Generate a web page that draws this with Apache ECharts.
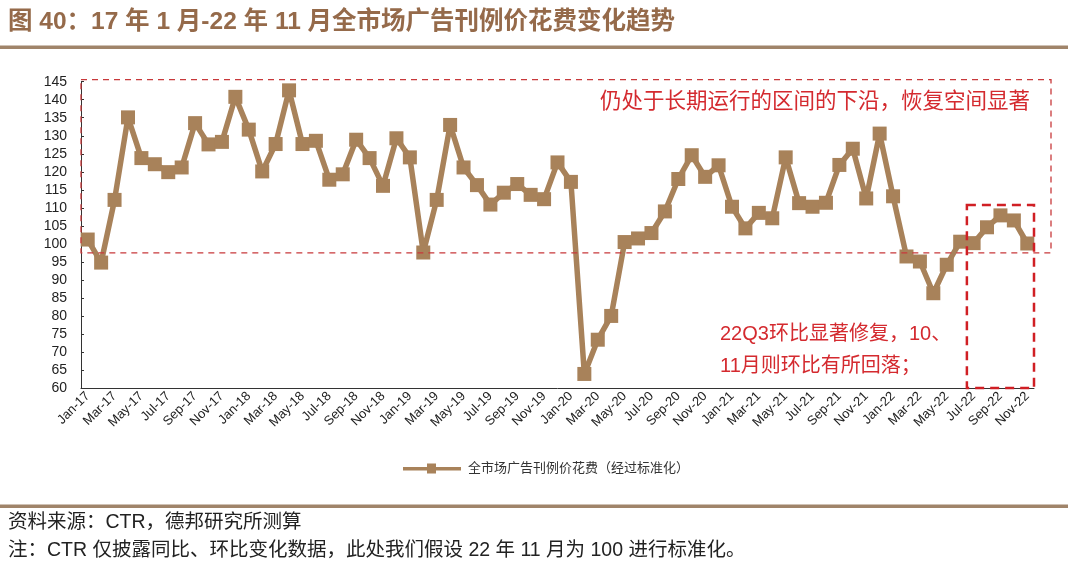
<!DOCTYPE html>
<html><head><meta charset="utf-8">
<script src="https://cdn.jsdelivr.net/npm/echarts@6/dist/echarts.min.js"></script>
<style>html,body{margin:0;padding:0;background:#fff}#c{width:1080px;height:568px}</style>
</head><body><div id="c"></div>
<script>
const categories = ['Jan-17','Feb-17','Mar-17','Apr-17','May-17','Jun-17','Jul-17','Aug-17','Sep-17','Oct-17','Nov-17','Dec-17',
'Jan-18','Feb-18','Mar-18','Apr-18','May-18','Jun-18','Jul-18','Aug-18','Sep-18','Oct-18','Nov-18','Dec-18',
'Jan-19','Feb-19','Mar-19','Apr-19','May-19','Jun-19','Jul-19','Aug-19','Sep-19','Oct-19','Nov-19','Dec-19',
'Jan-20','Feb-20','Mar-20','Apr-20','May-20','Jun-20','Jul-20','Aug-20','Sep-20','Oct-20','Nov-20','Dec-20',
'Jan-21','Feb-21','Mar-21','Apr-21','May-21','Jun-21','Jul-21','Aug-21','Sep-21','Oct-21','Nov-21','Dec-21',
'Jan-22','Feb-22','Mar-22','Apr-22','May-22','Jun-22','Jul-22','Aug-22','Sep-22','Oct-22','Nov-22'];
const values = [101.2,94.8,112.2,135.1,123.8,122.1,119.9,121.2,133.5,127.6,128.3,140.8,
131.7,120.1,127.7,142.6,127.7,128.6,117.8,119.3,128.9,123.8,116.1,129.3,
124.0,97.6,112.2,133.0,121.2,116.3,110.9,114.2,116.6,113.6,112.4,122.6,
117.2,63.9,73.4,80.0,100.5,101.5,103.0,109.0,118.0,124.6,118.6,121.8,
110.3,104.3,108.6,107.1,124.0,111.3,110.3,111.4,121.9,126.4,112.6,130.6,
113.2,96.5,95.1,86.3,94.2,100.6,100.2,104.6,107.9,106.5,100.1];
const seriesName = '全市场广告刊例价花费（经过标准化）';
const yMin = 60, yMax = 145, yStep = 5;
const bandLow = 97.5, bandHigh = 145.6;
const boxStart = 'Jun-22', boxEnd = 'Jul-22', boxTop = 110.8;
const titleText = '图 40：17 年 1 月-22 年 11 月全市场广告刊例价花费变化趋势';
const note1 = '仍处于长期运行的区间的下沿，恢复空间显著';
const note2 = '22Q3环比显著修复，10、\n11月则环比有所回落；';
const source1 = '资料来源：CTR，德邦研究所测算';
const source2 = '注：CTR 仅披露同比、环比变化数据，此处我们假设 22 年 11 月为 100 进行标准化。';

const FONT = '"Liberation Sans","Noto Sans CJK SC",sans-serif';
const lineColor = '#A8825A';
const red = '#D42A2F';
const chart = echarts.init(document.getElementById('c'));
const grid = {left: 81, right: 46, top: 81.7, bottom: 180};
chart.setOption({
  animation: false,
  grid: grid,
  legend: {
    bottom: 88, left: 398,
    itemWidth: 58, itemHeight: 10, itemGap: 10,
    textStyle: {fontSize: 13, color: '#333', fontFamily: FONT, padding: [0, 0, 0, 2]},
    data: [{name: seriesName, icon: 'path://M0,3.5 L24,3.5 L24,0 L33,0 L33,3.5 L58,3.5 L58,7 L33,7 L33,10 L24,10 L24,7 L0,7 Z', itemStyle:{color: lineColor}}]
  },
  xAxis: {
    type: 'category', data: categories, boundaryGap: true,
    axisLine: {lineStyle: {color: '#333', width: 1}},
    axisTick: {inside: true, length: 4, interval: 0, lineStyle: {color: '#333'}},
    axisLabel: {interval: 1, rotate: 45, fontSize: 13, color: '#222', fontFamily: FONT, margin: 6}
  },
  yAxis: {
    type: 'value', min: yMin, max: yMax, interval: yStep,
    axisLine: {show: true, lineStyle: {color: '#333', width: 1}},
    axisTick: {show: true, inside: true, length: 3, lineStyle: {color: '#333'}},
    splitLine: {show: false},
    axisLabel: {fontSize: 14, color: '#222', fontFamily: FONT, margin: 14}
  },
  series: [{
    name: seriesName, type: 'line', data: values,
    symbol: 'rect', symbolSize: 14, showAllSymbol: true,
    lineStyle: {color: lineColor, width: 5.5},
    itemStyle: {color: lineColor}
  }]
});

function px(xv, yv) { return chart.convertToPixel({gridIndex: 0}, [xv, yv]); }
const gridRect = chart.getModel().getComponent('grid').coordinateSystem.getRect();
const yTopBand = px(categories[0], bandHigh)[1];
const yLowBand = px(categories[0], bandLow)[1];
const bx1 = (px(boxStart, yMin)[0] + px(boxEnd, yMin)[0]) / 2;
const bx2 = gridRect.x + gridRect.width;
const by1 = px(boxEnd, boxTop)[1];
const by2 = px(boxEnd, yMin)[1];

chart.setOption({
  graphic: [
    {type: 'text', left: 8, top: 10, style: {text: titleText, fontSize: 24.5, fontWeight: 'bold', fill: '#956A4A', fontFamily: FONT}},
    {type: 'rect', shape: {x: 0, y: 45.5, width: 1068, height: 3.5}, style: {fill: '#A0846A'}},
    {type: 'rect', shape: {x: 0, y: 504.5, width: 1068, height: 3.5}, style: {fill: '#A0846A'}},
    {type: 'rect', z: 10, shape: {x: gridRect.x, y: yTopBand, width: 1051 - gridRect.x, height: yLowBand - yTopBand},
      style: {fill: 'none', stroke: '#C8393B', lineWidth: 1.3, lineDash: [6, 5]}},
    {type: 'rect', z: 10, shape: {x: bx1, y: by1, width: bx2 - bx1, height: by2 - by1},
      style: {fill: 'none', stroke: '#D01F24', lineWidth: 2.5, lineDash: [9, 6]}},
    {type: 'text', z: 11, right: 50, top: 91, style: {text: note1, fontSize: 21.5, fill: red, fontFamily: FONT}},
    {type: 'text', z: 11, left: 720, top: 318, style: {text: note2, fontSize: 20, lineHeight: 32, fill: red, fontFamily: FONT}},
    {type: 'text', left: 8, top: 513, style: {text: source1, fontSize: 19.5, fill: '#222', fontFamily: FONT}},
    {type: 'text', left: 8, top: 541, style: {text: source2, fontSize: 19.5, fill: '#222', fontFamily: FONT}}
  ]
});
</script></body></html>
